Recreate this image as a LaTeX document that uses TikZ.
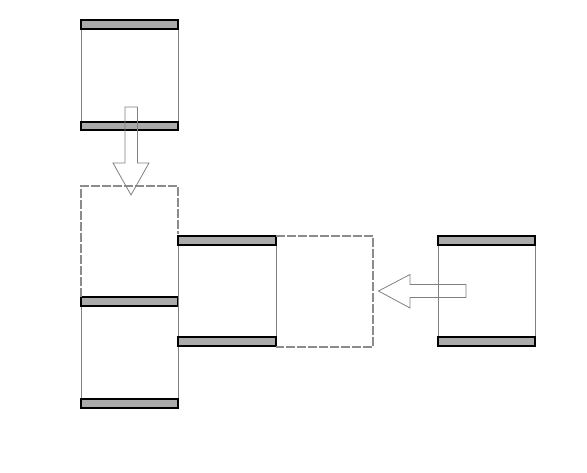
\documentclass[tikz,border=0pt]{standalone}
\begin{document}
\begin{tikzpicture}[x=1pt,y=-1pt,
  bar/.style={fill=black!33,draw=black,line width=2pt},
  side/.style={draw=black!50,line width=0.9pt},
  ghost/.style={draw=black!45,line width=1.2pt,dash pattern=on 9pt off 2pt},
  blockarrow/.style={draw=black!50,line width=0.8pt,line join=miter}]
\useasboundingbox (0,0) rectangle (587,473);
% unit A (top)
\draw[side] (81,25) -- (81,126) (178,25) -- (178,126);
\draw[bar] (81,20.5) rectangle (178,29.5);
\draw[bar] (81,122) rectangle (178,130.5);
% unit C (bottom left)
\draw[side] (81,302) -- (81,403) (178,302) -- (178,403);
\draw[bar] (81,297.5) rectangle (178,306.5);
\draw[bar] (81,398.5) rectangle (178,407.5);
% unit B (middle)
\draw[side] (178,241) -- (178,342) (276,241) -- (276,342);
\draw[bar] (178,236.5) rectangle (276,245.5);
\draw[bar] (178,337.5) rectangle (276,346.5);
% unit D (right)
\draw[side] (438,241) -- (438,342) (535,241) -- (535,342);
\draw[bar] (438,236.5) rectangle (535,245.5);
\draw[bar] (438,337.5) rectangle (535,346.5);
% ghost boxes
\draw[ghost] (81,297) -- (81,186) -- (178,186) -- (178,234);
\draw[ghost] (276,236) -- (373,236) -- (373,347) -- (276,347);
% block arrows
\draw[blockarrow] (125,107) -- (137.5,107) -- (137.5,163) -- (149,163) -- (131,195) -- (113,163) -- (125,163) -- cycle;
\draw[blockarrow] (466,284.5) -- (466,297.5) -- (410,297.5) -- (410,308) -- (378.5,291) -- (410,274.5) -- (410,284.5) -- cycle;
\end{tikzpicture}
\end{document}
